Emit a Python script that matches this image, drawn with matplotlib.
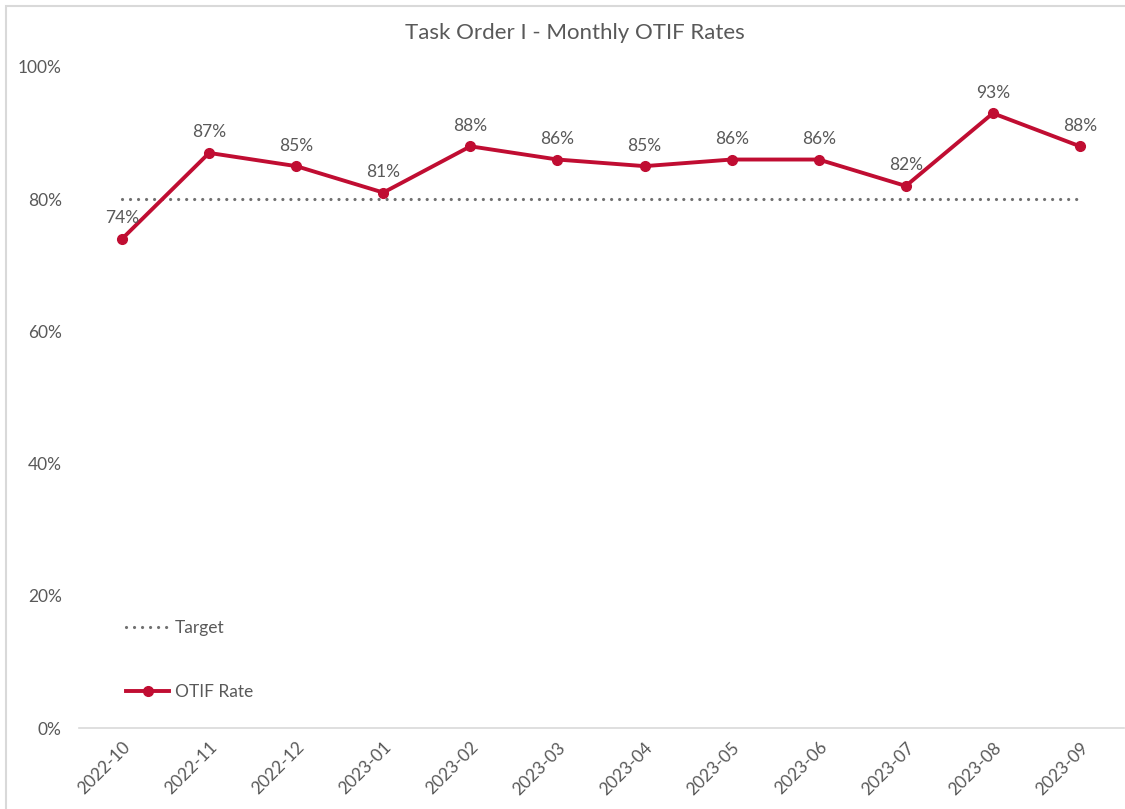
import matplotlib
matplotlib.use('Agg')
import matplotlib.pyplot as plt
from matplotlib.patches import Rectangle
from matplotlib.ticker import PercentFormatter

# chart data
months = ['2022-10', '2022-11', '2022-12', '2023-01', '2023-02', '2023-03',
          '2023-04', '2023-05', '2023-06', '2023-07', '2023-08', '2023-09']
otif_rate = [0.74, 0.87, 0.85, 0.81, 0.88, 0.86, 0.85, 0.86, 0.86, 0.82, 0.93, 0.88]
target = [0.80] * len(months)

plt.rcParams['font.family'] = ['Lato', 'DejaVu Sans']
gray = '#595959'
red = '#C00D32'

fig = plt.figure(figsize=(11.25, 8.09), dpi=100)
ax = fig.add_axes([0.0698, 0.1001, 0.9289, 0.8171])

x = range(len(months))
ax.plot(x, target, linestyle=(0, (0.01, 2.5)), color='#707070', linewidth=2.3,
        dash_capstyle='round', label='Target')
ax.plot(x, otif_rate, color=red, linewidth=2.8, marker='o', markersize=7, label='OTIF Rate')

for i, v in enumerate(otif_rate):
    ax.annotate(f'{v:.0%}', (i, v), xytext=(0, 9), textcoords='offset points',
                ha='center', va='bottom', fontsize=12.5, color=gray)

ax.set_xlim(-0.5, len(months) - 0.5)
ax.set_ylim(0, 1)
ax.set_yticks([0, 0.2, 0.4, 0.6, 0.8, 1.0])
ax.yaxis.set_major_formatter(PercentFormatter(1.0, decimals=0))
ax.set_xticks(list(x))
ax.set_xticklabels(months, rotation=45, ha='right', rotation_mode='anchor')
ax.tick_params(axis='both', length=0, labelsize=12.5, labelcolor=gray)
ax.tick_params(axis='y', pad=12)
ax.tick_params(axis='x', pad=8)

for s in ['top', 'right', 'left']:
    ax.spines[s].set_visible(False)
ax.spines['bottom'].set_color('#d9d9d9')
ax.spines['bottom'].set_linewidth(1.2)

fig.text(575 / 1125, 1 - 33 / 809, 'Task Order I - Monthly OTIF Rates',
         ha='center', va='center', fontsize=16, color=gray)

leg = ax.legend(loc='upper left', bbox_to_anchor=(126 / 1125, 1 - 620 / 809),
                bbox_transform=fig.transFigure, frameon=False, fontsize=12.5,
                handlelength=2.5, handletextpad=0.3, labelspacing=2.75, borderpad=0,
                borderaxespad=0)
for t in leg.get_texts():
    t.set_color(gray)

# chart border (cropped on right and bottom)
fig.patches.append(Rectangle((6 / 1125, -0.1), 1.2, 1.1 - 6 / 809, transform=fig.transFigure,
                             fill=False, edgecolor='#d9d9d9', linewidth=1.5))

fig.savefig('out.png', dpi=100)
